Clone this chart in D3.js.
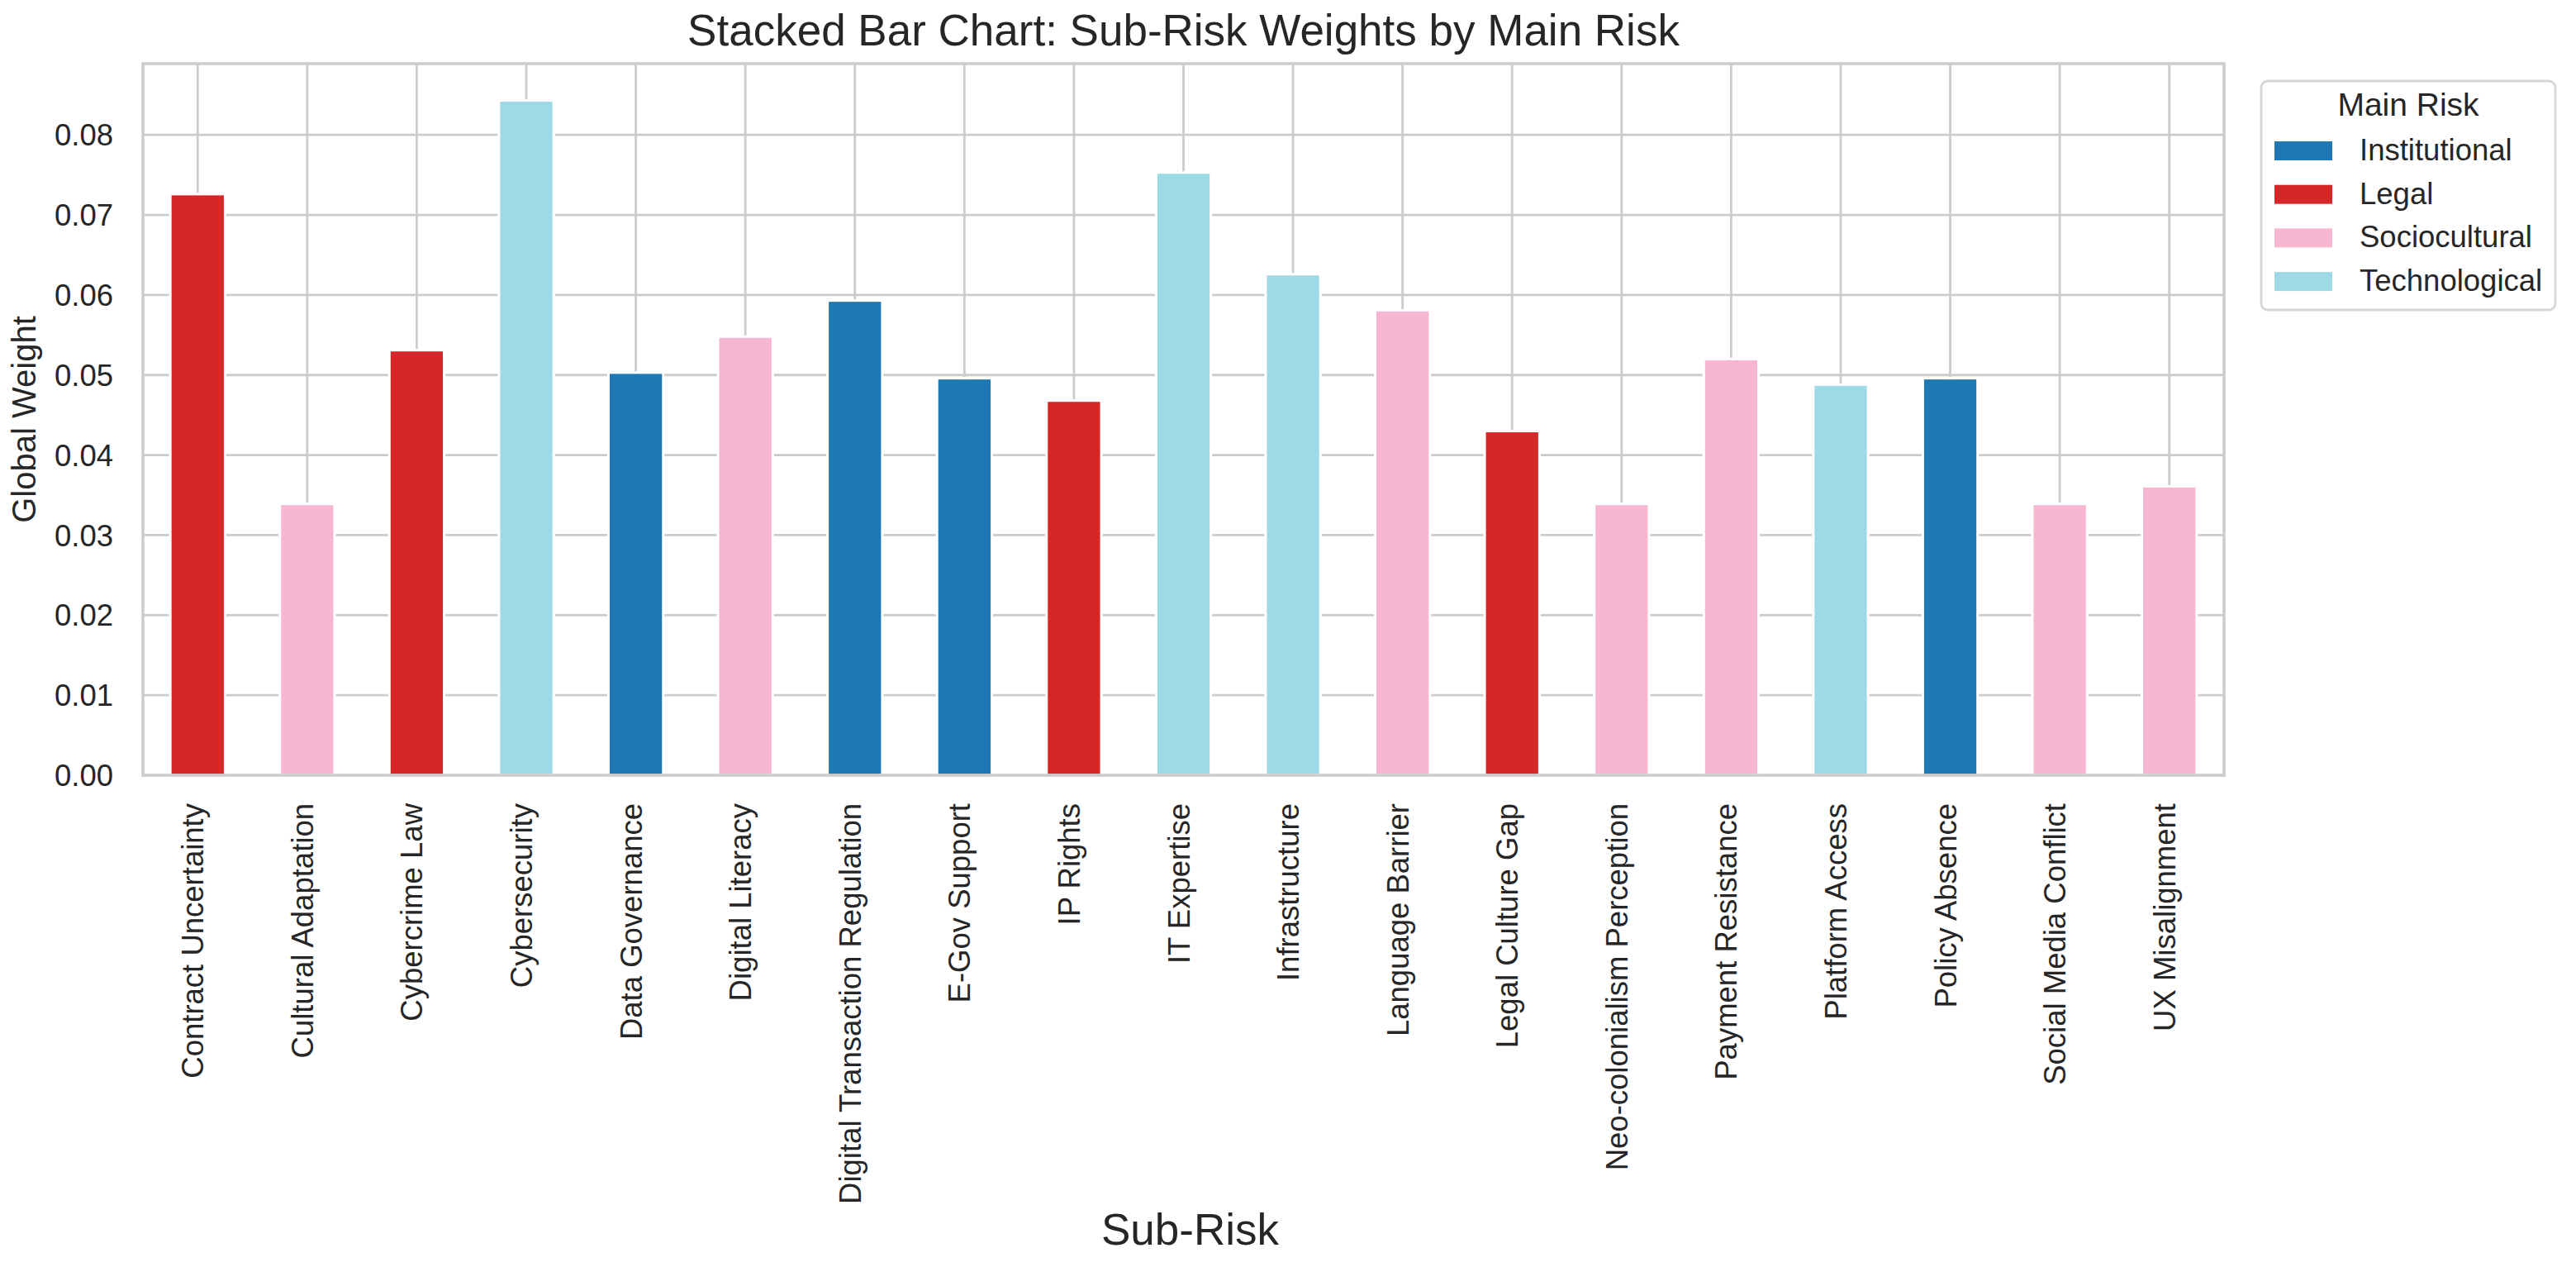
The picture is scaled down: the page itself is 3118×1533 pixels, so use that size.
<!DOCTYPE html>
<html>
<head>
<meta charset="utf-8">
<script src="https://cdn.jsdelivr.net/npm/d3@7"></script>
<style>
  body { margin: 0; background: #ffffff; }
  text { font-family: "Liberation Sans", Arial, sans-serif; fill: #262626; }
</style>
</head>
<body>
<div id="chart"></div>
<script>
// chart data
var subRisks = ["Contract Uncertainty", "Cultural Adaptation", "Cybercrime Law", "Cybersecurity",
  "Data Governance", "Digital Literacy", "Digital Transaction Regulation", "E-Gov Support",
  "IP Rights", "IT Expertise", "Infrastructure", "Language Barrier", "Legal Culture Gap",
  "Neo-colonialism Perception", "Payment Resistance", "Platform Access", "Policy Absence",
  "Social Media Conflict", "UX Misalignment"];
var mainRiskOf = ["Legal", "Sociocultural", "Legal", "Technological",
  "Institutional", "Sociocultural", "Institutional", "Institutional",
  "Legal", "Technological", "Technological", "Sociocultural", "Legal",
  "Sociocultural", "Sociocultural", "Technological", "Institutional",
  "Sociocultural", "Sociocultural"];
var weights = [0.0726, 0.0339, 0.0531, 0.0843,
  0.0503, 0.0548, 0.0593, 0.0496,
  0.0468, 0.0753, 0.0626, 0.0581, 0.0430,
  0.0339, 0.0520, 0.0488, 0.0496,
  0.0339, 0.0361];
var mainRisks = ["Institutional", "Legal", "Sociocultural", "Technological"];
var riskColors = ["#1f77b4", "#d62728", "#f7b6d2", "#9edae5"];
var yTicks = [0, 0.01, 0.02, 0.03, 0.04, 0.05, 0.06, 0.07, 0.08];
var yMax = 0.0889;

var W = 3118, H = 1533;
// plot box (note: "top" is a reserved window property, so use p* names)
var pLeft = 173, pRight = 2692, pTop = 77, pBottom = 938;
var grey = "#cccccc";

var svg = d3.select("#chart")
  .append("svg")
  .attr("width", W)
  .attr("height", H);

var x = d3.scaleBand()
  .domain(subRisks)
  .range([pLeft, pRight])
  .paddingInner(0.5)
  .paddingOuter(0.25);

var y = d3.scaleLinear()
  .domain([0, yMax])
  .range([pBottom, pTop]);

var color = d3.scaleOrdinal()
  .domain(mainRisks)
  .range(riskColors);

// grid lines
svg.append("g")
  .selectAll("line")
  .data(yTicks)
  .enter()
  .append("line")
  .attr("x1", pLeft)
  .attr("x2", pRight)
  .attr("y1", function(d) { return y(d); })
  .attr("y2", function(d) { return y(d); })
  .attr("stroke", grey)
  .attr("stroke-width", 2.8);

svg.append("g")
  .selectAll("line")
  .data(subRisks)
  .enter()
  .append("line")
  .attr("x1", function(d) { return x(d) + x.bandwidth() / 2; })
  .attr("x2", function(d) { return x(d) + x.bandwidth() / 2; })
  .attr("y1", pTop)
  .attr("y2", pBottom)
  .attr("stroke", grey)
  .attr("stroke-width", 2.8);

// bars, one per sub-risk, coloured by main risk
svg.append("g")
  .selectAll("rect")
  .data(weights)
  .enter()
  .append("rect")
  .attr("x", function(d, i) { return x(subRisks[i]); })
  .attr("y", function(d) { return y(d); })
  .attr("width", x.bandwidth())
  .attr("height", function(d) { return y(0) - y(d); })
  .attr("fill", function(d, i) { return color(mainRiskOf[i]); })
  .attr("stroke", "#ffffff")
  .attr("stroke-width", 3);

// frame
svg.append("rect")
  .attr("x", pLeft)
  .attr("y", pTop)
  .attr("width", pRight - pLeft)
  .attr("height", pBottom - pTop)
  .attr("fill", "none")
  .attr("stroke", grey)
  .attr("stroke-width", 3.5);

// y tick labels
svg.append("g")
  .selectAll("text")
  .data(yTicks)
  .enter()
  .append("text")
  .attr("x", 137)
  .attr("y", function(d) { return y(d); })
  .attr("dy", "0.36em")
  .attr("text-anchor", "end")
  .attr("font-size", "36.5px")
  .text(function(d) { return d3.format(".2f")(d); });

// x tick labels
svg.append("g")
  .selectAll("text")
  .data(subRisks)
  .enter()
  .append("text")
  .attr("transform", function(d) {
    return "translate(" + (x(d) + x.bandwidth() / 2 + 7) + "," + 972 + ") rotate(-90)";
  })
  .attr("text-anchor", "end")
  .attr("font-size", "36.5px")
  .text(function(d) { return d; });

// titles
svg.append("text")
  .attr("x", (pLeft + pRight) / 2)
  .attr("y", 55)
  .attr("text-anchor", "middle")
  .attr("font-size", "53px")
  .text("Stacked Bar Chart: Sub-Risk Weights by Main Risk");

svg.append("text")
  .attr("x", (pLeft + pRight) / 2 + 8)
  .attr("y", 1506)
  .attr("text-anchor", "middle")
  .attr("font-size", "53px")
  .text("Sub-Risk");

svg.append("text")
  .attr("transform", "translate(43," + ((pTop + pBottom) / 2) + ") rotate(-90)")
  .attr("text-anchor", "middle")
  .attr("font-size", "40px")
  .text("Global Weight");

// legend
var legend = svg.append("g")
  .attr("transform", "translate(2737,98)");

legend.append("rect")
  .attr("width", 356)
  .attr("height", 277)
  .attr("rx", 8)
  .attr("fill", "#ffffff")
  .attr("stroke", "#d6d6d6")
  .attr("stroke-width", 2.8);

legend.append("text")
  .attr("x", 178)
  .attr("y", 42)
  .attr("text-anchor", "middle")
  .attr("font-size", "39px")
  .text("Main Risk");

var items = legend.selectAll("g.item")
  .data(mainRisks)
  .enter()
  .append("g")
  .attr("class", "item")
  .attr("transform", function(d, i) { return "translate(0," + (96 + i * 52.7) + ")"; });

items.append("rect")
  .attr("x", 16)
  .attr("y", -23)
  .attr("width", 70)
  .attr("height", 23)
  .attr("fill", function(d) { return color(d); });

items.append("text")
  .attr("x", 119)
  .attr("y", 0)
  .attr("font-size", "36.5px")
  .text(function(d) { return d; });
</script>
</body>
</html>
